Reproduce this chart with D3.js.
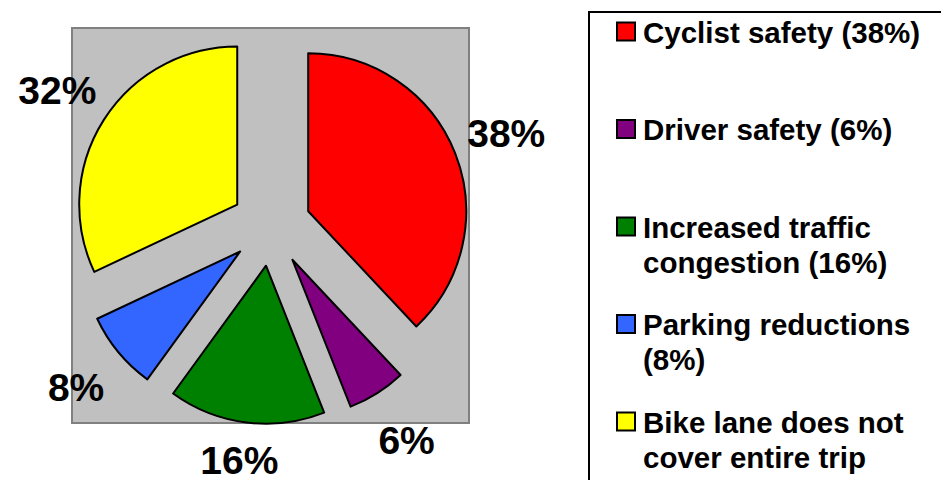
<!DOCTYPE html>
<html>
<head>
<meta charset="utf-8">
<script src="https://cdn.jsdelivr.net/npm/d3@7"></script>
<style>
  body { margin: 0; background: #fff; }
  text { font-family: "Liberation Sans", Arial, sans-serif; font-weight: bold; }
</style>
</head>
<body>
<div id="chart"></div>
<script>
const categories = ["Cyclist safety", "Driver safety", "Increased traffic congestion", "Parking reductions", "Bike lane does not cover entire trip"];
const values = [38, 6, 16, 8, 32];
const legendLines = [
    ["Cyclist safety (38%)"],
    ["Driver safety (6%)"],
    ["Increased traffic", "congestion (16%)"],
    ["Parking reductions", "(8%)"],
    ["Bike lane does not", "cover entire trip"]
];
const colors = ["#ff0000", "#800080", "#008000", "#3366ff", "#ffff00"];

const width = 941, height = 480;
const cx = 271, cy = 226, radius = 158, explode = 40, labelRadius = 253;

const svg = d3.select("#chart").append("svg")
    .attr("width", width)
    .attr("height", height);

// plot area
svg.append("rect")
    .attr("x", 72).attr("y", 28)
    .attr("width", 397).attr("height", 395)
    .attr("fill", "#c0c0c0")
    .attr("stroke", "#808080")
    .attr("stroke-width", 2);

const pie = d3.pie().sort(null).value((d) => d);
const arcs = pie(values);
const arc = d3.arc().innerRadius(0).outerRadius(radius);
const mid = (d) => (d.startAngle + d.endAngle) / 2;

const g = svg.append("g").attr("transform", "translate(" + cx + "," + cy + ")");

g.selectAll("path")
    .data(arcs)
    .enter()
    .append("path")
    .attr("d", arc)
    .attr("fill", (d, i) => colors[i])
    .attr("stroke", "#000")
    .attr("stroke-width", 2)
    .attr("stroke-linejoin", "round")
    .attr("transform", (d) => "translate(" + (Math.sin(mid(d)) * explode) + "," + (-Math.cos(mid(d)) * explode) + ")");

// percent labels, kept inside the chart's bottom edge
g.selectAll("text.pct")
    .data(arcs)
    .enter()
    .append("text")
    .attr("class", "pct")
    .attr("x", (d) => Math.sin(mid(d)) * labelRadius)
    .attr("y", (d) => Math.min(-Math.cos(mid(d)) * labelRadius + 14, height - 6 - cy))
    .attr("text-anchor", "middle")
    .attr("font-size", 39)
    .text((d) => d.value + "%");

// legend
svg.append("rect")
    .attr("x", 589).attr("y", 12)
    .attr("width", 400).attr("height", 500)
    .attr("fill", "#fff")
    .attr("stroke", "#000")
    .attr("stroke-width", 2);

const legend = svg.selectAll("g.legend")
    .data(categories)
    .enter()
    .append("g")
    .attr("class", "legend")
    .attr("transform", (d, i) => "translate(617," + (42.5 + i * 97.5) + ")");

legend.append("rect")
    .attr("x", 0).attr("y", -20)
    .attr("width", 18).attr("height", 18)
    .attr("fill", (d, i) => colors[i])
    .attr("stroke", "#000")
    .attr("stroke-width", 2);

legend.append("text")
    .attr("x", 26)
    .attr("font-size", 29.5)
    .selectAll("tspan")
    .data((d, i) => legendLines[i])
    .enter()
    .append("tspan")
    .attr("x", 26)
    .attr("dy", (d, j) => j === 0 ? 0 : 35)
    .text((d) => d);
</script>
</body>
</html>
